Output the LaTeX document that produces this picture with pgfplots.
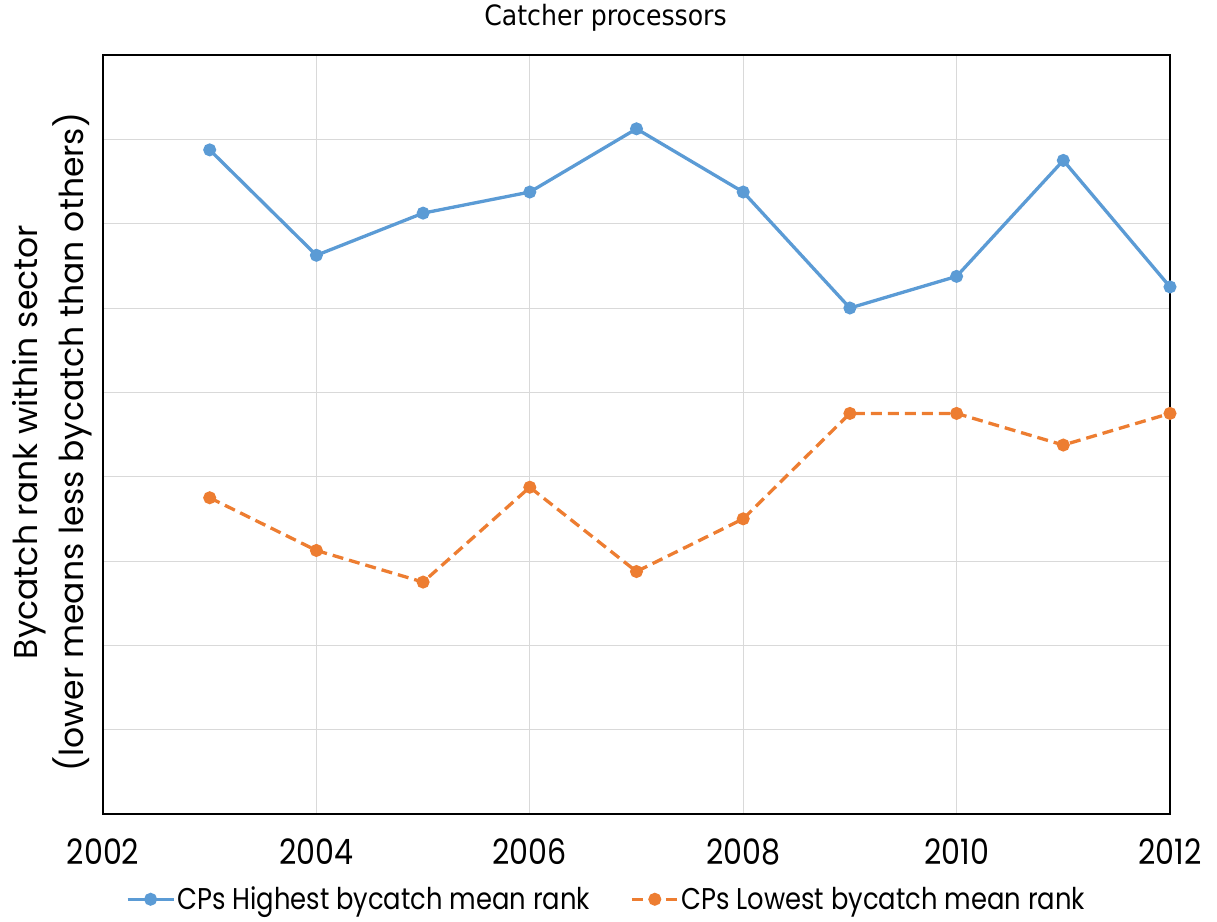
\documentclass[border=0pt]{standalone}
\usepackage{pgfplots}
\pgfplotsset{compat=1.18}
\usepackage{fontspec}
\setmainfont[FakeStretch=0.86]{Poppins}
\newfontfamily\labelfont{Poppins}
\newfontfamily\titlefont{DejaVu Sans}[FakeStretch=0.9]
\definecolor{cpblue}{RGB}{91,155,213}
\definecolor{cporange}{RGB}{237,125,49}
\definecolor{gridgray}{RGB}{217,217,217}
\begin{document}
\begin{tikzpicture}
\path[use as bounding box] (0pt,0pt) rectangle (1217pt,921pt);
\begin{axis}[
  at={(103pt,107pt)}, anchor=south west,
  scale only axis,
  width=1067pt, height=759pt,
  xmin=2002, xmax=2012, ymin=0, ymax=9,
  xtick={2002,2004,...,2012},
  ytick={1,...,8},
  yticklabels={},
  major tick length=0pt,
  xmajorgrids, ymajorgrids,
  grid style={gridgray, line width=1pt},
  axis line style={black, line width=1.2pt},
  /pgf/number format/1000 sep={},
  /pgf/number format/assume math mode=true,
  xticklabel style={font=\fontsize{35}{40}\selectfont, yshift=-21pt},
  ylabel={Bycatch rank within sector\\(lower means less bycatch than others)},
  ylabel style={font=\labelfont\fontsize{33}{46}\selectfont, align=center,
    at={(axis description cs:-0.048,0.49)}, anchor=center},
  title={\titlefont Catcher processors},
  title style={font=\fontsize{28}{32}\selectfont, at={(0.5,1)}, yshift=48pt, xshift=-31pt, anchor=north},
  legend columns=2,
  legend style={at={(0.5,-0.1)}, anchor=north, draw=none, xshift=-30pt, yshift=7pt,
    font=\fontsize{30}{34}\selectfont,
    /tikz/every even column/.append style={column sep=38pt}},
  legend image code/.code={
    \draw[mark repeat=2,mark phase=2,#1] plot coordinates {(0pt,0pt) (23pt,0pt) (46pt,0pt)};},
]
\addplot[cpblue, line width=3.3pt, mark=*, mark size=4.8pt, mark options={solid}]
  coordinates {(2003,7.875) (2004,6.625) (2005,7.125) (2006,7.375) (2007,8.125)
               (2008,7.375) (2009,6.0) (2010,6.375) (2011,7.75) (2012,6.25)};
\addlegendentry{CPs Highest bycatch mean rank}
\addplot[cporange, line width=3.3pt, dashed, dash pattern=on 11pt off 6pt, mark=*, mark size=4.8pt, mark options={solid}]
  coordinates {(2003,3.75) (2004,3.125) (2005,2.75) (2006,3.875) (2007,2.875)
               (2008,3.5) (2009,4.75) (2010,4.75) (2011,4.375) (2012,4.75)};
\addlegendentry{CPs Lowest bycatch mean rank}
\end{axis}
\end{tikzpicture}
\end{document}
